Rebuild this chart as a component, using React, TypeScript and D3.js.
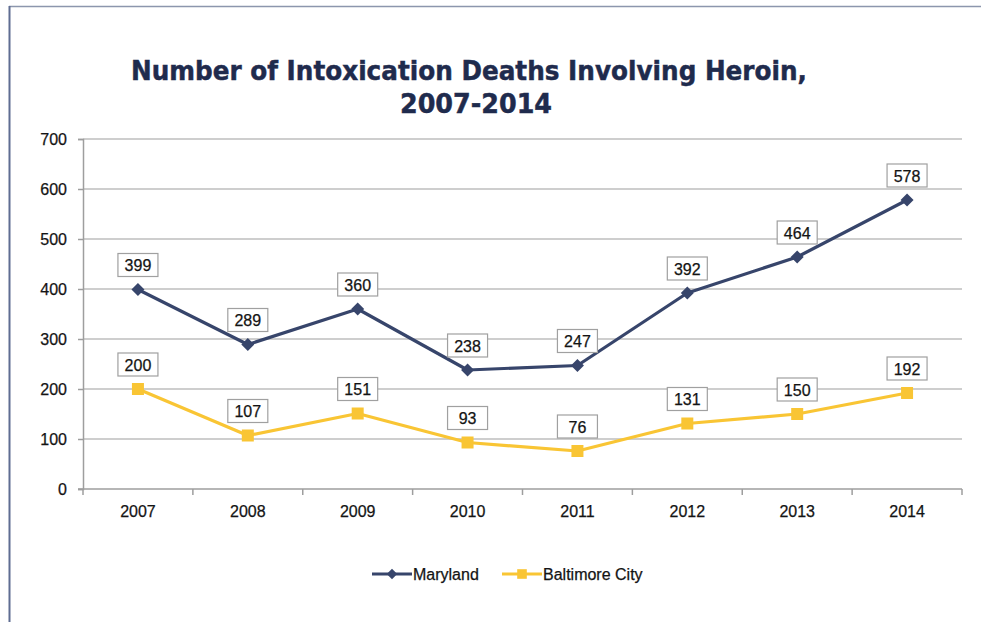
import React, { useEffect, useRef } from 'react';
import * as d3 from 'd3';

const years = ['2007', '2008', '2009', '2010', '2011', '2012', '2013', '2014'];
const maryland = [399, 289, 360, 238, 247, 392, 464, 578];
const baltimore = [200, 107, 151, 93, 76, 131, 150, 192];
const yTicks = [0, 100, 200, 300, 400, 500, 600, 700];

const NAVY = '#37456b';
const GOLD = '#f9c534';
const TITLE_FONT = '"DejaVu Sans", Verdana, sans-serif';
const FONT = '"Liberation Sans", Arial, sans-serif';
const TXT = '#141414';

const App = () => {
  const ref = useRef<SVGSVGElement | null>(null);

  useEffect(() => {
    const width = 981;
    const height = 622;
    const margin = { left: 83, right: 19, top: 139, bottom: 133 };

    const svg = d3.select(ref.current);
    svg.selectAll('*').remove();

    svg.append('rect').attr('width', width).attr('height', height).attr('fill', '#fff');

    // outer frame (only top and left are visible)
    svg.append('line')
      .attr('x1', 9).attr('x2', width).attr('y1', 6.5).attr('y2', 6.5)
      .attr('stroke', '#8c96ad').attr('stroke-width', 1.5);
    svg.append('line')
      .attr('x1', 9.5).attr('x2', 9.5).attr('y1', 6).attr('y2', height)
      .attr('stroke', '#5f6d92').attr('stroke-width', 2);

    // title
    const title = (txt: string, x0: number, y0: number, len: number) =>
      svg.append('text')
        .attr('x', x0).attr('y', y0)
        .attr('textLength', len).attr('lengthAdjust', 'spacingAndGlyphs')
        .attr('font-family', TITLE_FONT).attr('font-weight', 'bold').attr('font-size', 27)
        .attr('fill', '#1f2b4d').attr('stroke', '#1f2b4d').attr('stroke-width', 0.5)
        .text(txt);
    title('Number of Intoxication Deaths Involving Heroin,', 131, 80, 676);
    title('2007-2014', 400, 113, 152);

    const x = d3.scaleBand()
      .domain(years)
      .range([margin.left, width - margin.right]);

    const y = d3.scaleLinear()
      .domain([0, 700])
      .range([height - margin.bottom, margin.top]);

    const g = svg.append('g');

    // gridlines
    g.selectAll('.grid')
      .data(yTicks.filter(t => t > 0))
      .enter().append('line')
      .attr('x1', margin.left).attr('x2', width - margin.right)
      .attr('y1', d => y(d)).attr('y2', d => y(d))
      .attr('stroke', '#9e9e9e').attr('stroke-width', 1.2);

    // y axis
    const yAxis = svg.append('g')
      .attr('transform', `translate(${margin.left},0)`)
      .call(d3.axisLeft(y).tickValues(yTicks).tickSize(5).tickPadding(11));
    yAxis.select('.domain').attr('stroke', '#9e9e9e').attr('stroke-width', 1.5);
    yAxis.selectAll('.tick line').attr('stroke', '#9e9e9e').attr('stroke-width', 1.5);
    yAxis.selectAll('.tick text')
      .attr('font-family', FONT).attr('font-size', 16).attr('fill', TXT)
      .attr('stroke', TXT).attr('stroke-width', 0.25);

    // x axis, ticks at band edges
    const xAxisG = svg.append('g')
      .attr('transform', `translate(0,${y(0)})`);
    xAxisG.append('line')
      .attr('x1', margin.left - 5).attr('x2', width - margin.right)
      .attr('stroke', '#9e9e9e').attr('stroke-width', 1.5);
    const edges = years.map(d => x(d) as number).concat([width - margin.right]);
    xAxisG.selectAll('.edge')
      .data(edges)
      .enter().append('line')
      .attr('x1', d => d).attr('x2', d => d)
      .attr('y1', 0).attr('y2', 6)
      .attr('stroke', '#9e9e9e').attr('stroke-width', 1.5);
    xAxisG.selectAll('.lbl')
      .data(years)
      .enter().append('text')
      .attr('x', d => (x(d) as number) + x.bandwidth() / 2)
      .attr('y', 28)
      .attr('text-anchor', 'middle')
      .attr('font-family', FONT).attr('font-size', 16).attr('fill', TXT)
      .attr('stroke', TXT).attr('stroke-width', 0.25)
      .text(d => d);

    const cx = (i: number) => (x(years[i]) as number) + x.bandwidth() / 2;

    const series = [
      { name: 'Maryland', values: maryland, color: NAVY, marker: 'diamond' },
      { name: 'Baltimore City', values: baltimore, color: GOLD, marker: 'square' },
    ];

    const line = d3.line<number>()
      .x((d, i) => cx(i))
      .y(d => y(d));

    const drawMarker = (sel: any, kind: string, color: string, px: number, py: number, s = 1) => {
      if (kind === 'diamond') {
        const r = 6.5 * s;
        sel.append('path')
          .attr('d', `M${px},${py - r}L${px + r},${py}L${px},${py + r}L${px - r},${py}Z`)
          .attr('fill', color);
      } else {
        const r = 6 * s;
        sel.append('rect')
          .attr('x', px - r).attr('y', py - r)
          .attr('width', 2 * r).attr('height', 2 * r)
          .attr('fill', color);
      }
    };

    series.forEach(s => {
      g.append('path')
        .datum(s.values)
        .attr('d', line)
        .attr('fill', 'none')
        .attr('stroke', s.color)
        .attr('stroke-width', 3.2)
        .attr('stroke-linejoin', 'round');
      s.values.forEach((v, i) => drawMarker(g, s.marker, s.color, cx(i), y(v)));
    });

    // data labels
    series.forEach(s => {
      s.values.forEach((v, i) => {
        const px = cx(i);
        const py = y(v);
        const bw = 40;
        const bh = 23;
        const bottom = py - 13;
        g.append('rect')
          .attr('x', px - bw / 2).attr('y', bottom - bh)
          .attr('width', bw).attr('height', bh)
          .attr('fill', '#fff').attr('stroke', '#a0a0a0').attr('stroke-width', 1.2);
        g.append('text')
          .attr('x', px).attr('y', bottom - bh / 2 + 6)
          .attr('text-anchor', 'middle')
          .attr('font-family', FONT).attr('font-size', 16).attr('fill', TXT)
          .attr('stroke', TXT).attr('stroke-width', 0.25)
          .text(String(v));
      });
    });

    // legend
    const legendItems = [
      { x0: 372, tx: 413 },
      { x0: 502, tx: 543 },
    ];
    series.forEach((s, i) => {
      const ly = 574;
      const { x0, tx } = legendItems[i];
      svg.append('line')
        .attr('x1', x0).attr('x2', x0 + 40).attr('y1', ly).attr('y2', ly)
        .attr('stroke', s.color).attr('stroke-width', 3);
      drawMarker(svg, s.marker, s.color, x0 + 20, ly, 0.8);
      svg.append('text')
        .attr('x', tx).attr('y', ly + 6)
        .attr('font-family', FONT).attr('font-size', 16).attr('fill', TXT)
        .attr('stroke', TXT).attr('stroke-width', 0.25)
        .text(s.name);
    });
  }, []);

  return (
    <svg
      ref={ref}
      width={981}
      height={622}
      style={{ position: 'absolute', left: 0, top: 0, display: 'block' }}
    />
  );
};

export default App;
